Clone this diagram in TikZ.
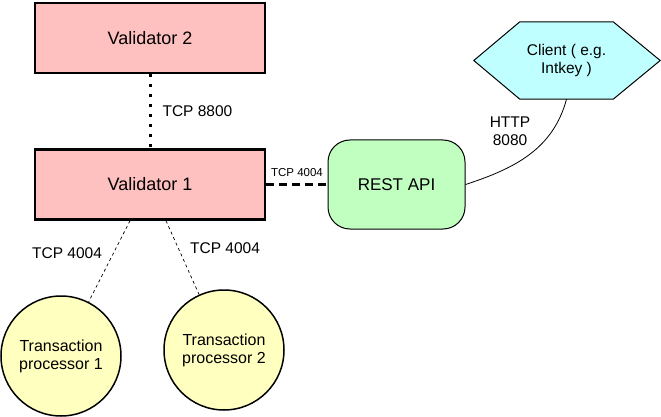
\documentclass[tikz,border=0pt]{standalone}
\usepackage{fontspec}
\setmainfont{Liberation Sans}
\usetikzlibrary{backgrounds}
\definecolor{valpink}{HTML}{FFC0C0}
\definecolor{restgreen}{HTML}{C0FFC0}
\definecolor{clientcyan}{HTML}{C0FFFF}
\definecolor{tpyellow}{HTML}{FFFFC0}
\tikzset{
  validator/.style={draw, line width=2.5pt, fill=valpink, minimum width=230pt, minimum height=70pt, font=\fontsize{18}{20}\selectfont},
  tproc/.style={draw, circle, line width=1.5pt, fill=tpyellow, minimum size=120pt, align=center, font=\fontsize{16}{18}\selectfont},
  lbl/.style={font=\fontsize{15.5}{17.5}\selectfont, align=center},
}
\begin{document}
\begin{tikzpicture}[x=1pt, y=-1pt]
\useasboundingbox (0,0) rectangle (661,417);
\node[validator] (v2) at (150,38) {Validator 2};
\node[validator] (v1) at (150,184.5) {Validator 1};
\node[draw, line width=1pt, fill=restgreen, rounded corners=22pt, minimum width=137pt, minimum height=89pt, font=\fontsize{17}{20}\selectfont] (rest) at (396.5,184.5) {REST API};
\node[inner sep=0pt, minimum width=93pt, minimum height=77pt, align=center, font=\fontsize{15.5}{18}\selectfont] (client) at (566.5,60.5) {Client ( e.g.\\ Intkey )};
\begin{scope}[on background layer]
\draw[line width=1pt, fill=clientcyan] (client.north west) -- (client.north east) -- ([xshift=47pt]client.east) -- (client.south east) -- (client.south west) -- ([xshift=-46pt]client.west) -- cycle;
\end{scope}
\node[tproc] (tp1) at (61,356) {Transaction\\processor 1};
\node[tproc] (tp2) at (224,350) {Transaction\\processor 2};
\draw[line width=3pt, dash pattern=on 3pt off 7pt] (v2.south) -- (v1.north);
\node[lbl, anchor=west] (l8800) at (159,111) {TCP 8800};
\draw[line width=2.5pt, dash pattern=on 8pt off 5pt] (v1.east) -- (rest.west);
\node[font=\fontsize{11.5}{13}\selectfont] (lrest) at (297,173) {TCP 4004};
\draw[line width=0.7pt, dashed] ([xshift=-20pt]v1.south) -- (tp1);
\draw[line width=0.7pt, dashed] ([xshift=16pt]v1.south) -- (tp2);
\node[lbl] (ltp1) at (67,253) {TCP 4004};
\node[lbl] (ltp2) at (225,248) {TCP 4004};
\draw[line width=0.8pt] (client.south) to[out=-105, in=18] (rest.east);
\node[lbl] (lhttp) at (510,131) {HTTP\\8080};
\end{tikzpicture}
\end{document}
